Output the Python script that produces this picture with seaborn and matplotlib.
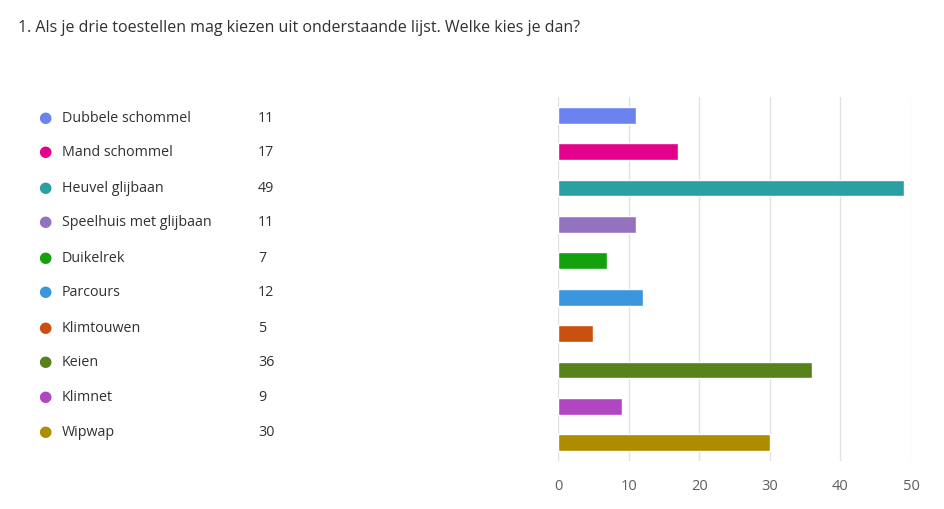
import matplotlib
matplotlib.use("Agg")
import matplotlib.pyplot as plt
import seaborn as sns
import pandas as pd

categories = ["Dubbele schommel", "Mand schommel", "Heuvel glijbaan", "Speelhuis met glijbaan",
              "Duikelrek", "Parcours", "Klimtouwen", "Keien", "Klimnet", "Wipwap"]
values = [11, 17, 49, 11, 7, 12, 5, 36, 9, 30]
colors = ["#6C82EF", "#E3008C", "#2AA0A4", "#9373C0", "#13A10E",
          "#3A96DD", "#CA5010", "#57811B", "#B146C2", "#AE8C00"]
xticks = [0, 10, 20, 30, 40, 50]

sns.set_style("white")
plt.rcParams['font.family'] = ['Open Sans', 'DejaVu Sans']
W, H = 944, 510
fig = plt.figure(figsize=(W/100, H/100), dpi=100)
fig.text(18/W, 1-28/H, "1. Als je drie toestellen mag kiezen uit onderstaande lijst. Welke kies je dan?",
         fontsize=11.5, color="#323130", va="center", ha="left")

for i, (c, v, col) in enumerate(zip(categories, values, colors)):
    y = 1 - (118 + 35*i)/H
    fig.text(45/W, y, "●", color=col, fontsize=11, va="center", ha="center")
    fig.text(62/W, y, c, color="#323130", fontsize=10.3, va="center")
    fig.text(258/W, y, str(v), color="#323130", fontsize=10.3, va="center")

ax = fig.add_axes([558/W, 1-462/H, (911-558)/W, (462-98)/H])
df = pd.DataFrame({"cat": categories, "val": values})
sns.barplot(data=df, x="val", y="cat", hue="cat", palette=colors, legend=False,
            width=0.46, saturation=1, ax=ax, zorder=3)
ax.set_xlim(0, 50)
ax.set_xticks(xticks)
ax.set_yticks([])
ax.set_xlabel(""); ax.set_ylabel("")
ax.grid(axis="x", color="#E1E1E1", lw=1, zorder=0)
for s in ax.spines.values():
    s.set_visible(False)
ax.tick_params(axis="x", length=0, labelsize=10.5, labelcolor="#605E5C", pad=12)
fig.savefig("out.png", dpi=100)
